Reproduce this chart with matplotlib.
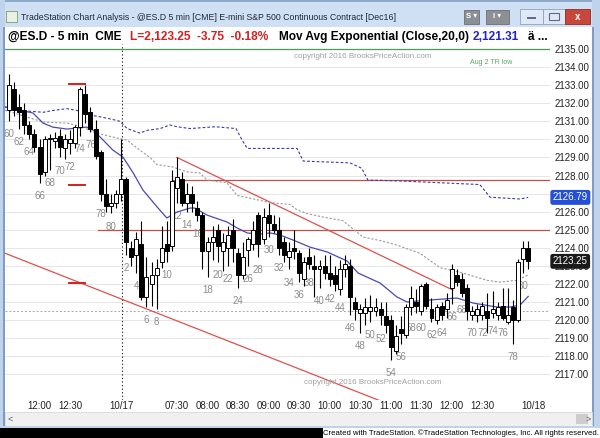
import matplotlib
matplotlib.use("Agg")
import matplotlib.pyplot as plt
from matplotlib.patches import Rectangle

plt.rcParams['font.family'] = ['Liberation Sans', 'DejaVu Sans']

# ---------------- data ----------------
# prior session (10/14), bar numbers 60..81
prior_num = list(range(60, 82))
prior_open = [2131.6, 2132.8, 2131.8, 2131.6, 2130.8, 2130.3, 2129.6, 2128.2, 2130.0, 2129.9, 2130.2,
              2129.5, 2129.8, 2129.8, 2130.7, 2132.5, 2131.5, 2130.6, 2129.3, 2127.0, 2126.3, 2126.5]
prior_high = [2133.6, 2133.2, 2132.5, 2132.0, 2131.0, 2130.6, 2130.0, 2130.2, 2130.3, 2130.4, 2130.6,
              2130.3, 2130.5, 2130.8, 2132.9, 2133.0, 2131.8, 2131.1, 2129.4, 2127.8, 2127.0, 2127.2]
prior_low = [2131.0, 2131.3, 2130.6, 2130.3, 2130.0, 2129.3, 2127.6, 2128.0, 2128.3, 2129.5, 2129.0,
             2128.9, 2129.2, 2129.5, 2130.2, 2130.9, 2130.4, 2128.9, 2126.6, 2126.0, 2125.9, 2126.2]
prior_close = [2133.0, 2131.6, 2131.5, 2130.8, 2130.3, 2129.6, 2128.1, 2130.0, 2130.1, 2130.1, 2129.6,
               2130.0, 2130.0, 2130.7, 2132.8, 2131.4, 2130.6, 2129.1, 2127.0, 2126.3, 2126.5, 2127.0]

# 10/17 session, bar numbers 1..81
day_num = list(range(1, 82))
day_open = [2127.0, 2127.8, 2124.0, 2123.6, 2124.2, 2121.3, 2122.0, 2122.5, 2123.2, 2124.2,
            2124.1, 2127.3, 2127.8, 2126.5, 2127.0, 2126.2, 2125.8, 2123.8, 2124.3, 2125.0,
            2123.8, 2124.0, 2125.0, 2123.7, 2122.5, 2123.9, 2124.2, 2125.8, 2124.5, 2125.8,
            2125.3, 2125.0, 2124.3, 2123.5, 2124.0, 2123.7, 2122.3, 2123.5, 2123.0, 2122.8,
            2123.0, 2122.6, 2122.5, 2121.7, 2122.8, 2123.0, 2121.0, 2120.4, 2120.4, 2120.5,
            2120.5, 2120.6, 2120.2, 2120.0, 2118.3, 2119.5, 2119.2, 2120.7, 2121.0, 2120.5,
            2122.0, 2120.6, 2120.0, 2120.8, 2120.6, 2121.8, 2122.5, 2122.3, 2121.8, 2120.3,
            2120.3, 2120.3, 2120.5, 2120.4, 2120.3, 2120.8, 2119.9, 2120.7, 2120.0, 2123.4,
            2124.0]
day_high = [2130.0, 2127.9, 2124.4, 2124.9, 2125.5, 2123.5, 2123.2, 2123.4, 2125.2, 2125.5,
            2128.3, 2129.0, 2128.2, 2127.6, 2127.4, 2126.6, 2126.0, 2124.6, 2125.2, 2125.3,
            2124.8, 2125.2, 2125.6, 2124.0, 2124.3, 2124.6, 2125.5, 2126.0, 2126.2, 2126.5,
            2125.8, 2125.7, 2124.6, 2124.3, 2125.0, 2123.9, 2123.5, 2124.0, 2123.6, 2123.3,
            2123.6, 2123.6, 2123.0, 2123.3, 2123.6, 2123.4, 2121.3, 2120.9, 2121.2, 2121.4,
            2121.2, 2121.0, 2121.0, 2120.3, 2119.7, 2120.2, 2120.9, 2121.9, 2121.7, 2122.0,
            2122.1, 2121.2, 2120.9, 2121.0, 2121.5, 2123.1, 2122.8, 2122.6, 2122.0, 2120.8,
            2120.9, 2121.0, 2121.5, 2121.6, 2121.0, 2121.8, 2121.8, 2121.1, 2123.4, 2124.4,
            2124.4]
day_low = [2126.6, 2123.6, 2123.0, 2122.6, 2121.1, 2120.7, 2120.8, 2120.6, 2122.9, 2123.2,
           2123.8, 2126.5, 2126.3, 2126.0, 2126.0, 2125.5, 2122.8, 2122.4, 2123.3, 2123.2,
           2122.7, 2123.0, 2123.2, 2121.8, 2122.3, 2123.0, 2123.9, 2123.5, 2124.2, 2124.6,
           2124.8, 2123.6, 2123.2, 2122.8, 2123.4, 2122.1, 2121.9, 2122.8, 2121.3, 2121.8,
           2122.3, 2121.9, 2121.6, 2121.4, 2122.4, 2120.3, 2120.0, 2119.3, 2119.7, 2119.9,
           2120.2, 2119.7, 2119.3, 2117.8, 2118.1, 2118.7, 2119.0, 2120.3, 2120.4, 2120.3,
           2120.6, 2119.9, 2119.8, 2120.0, 2120.1, 2120.9, 2121.9, 2121.3, 2120.0, 2120.0,
           2119.9, 2120.0, 2119.3, 2120.1, 2120.0, 2120.0, 2119.8, 2118.7, 2119.9, 2122.6,
           2122.8]
day_close = [2127.8, 2124.3, 2123.5, 2124.5, 2121.3, 2122.4, 2122.5, 2122.9, 2124.0, 2123.8,
             2127.7, 2127.9, 2126.5, 2127.0, 2126.5, 2125.8, 2123.8, 2124.3, 2124.6, 2124.1,
             2124.3, 2124.7, 2124.0, 2122.5, 2123.5, 2124.5, 2125.0, 2124.2, 2125.7, 2125.4,
             2125.0, 2124.0, 2123.6, 2123.8, 2123.8, 2122.6, 2123.2, 2123.1, 2122.8, 2123.0,
             2122.6, 2122.3, 2122.0, 2122.8, 2123.1, 2121.3, 2120.6, 2120.6, 2120.7, 2120.7,
             2120.7, 2120.3, 2119.7, 2118.5, 2119.1, 2119.3, 2120.7, 2121.2, 2120.8, 2121.9,
             2120.8, 2120.1, 2120.7, 2120.3, 2121.1, 2122.8, 2122.1, 2121.5, 2120.5, 2120.5,
             2120.6, 2120.8, 2120.1, 2120.6, 2120.7, 2120.1, 2120.3, 2120.0, 2123.2, 2124.0,
             2123.25]

# 20 bar EMA (solid blue), read at points: (bar index, price); index 1 = 10/17 bar 1
ema_idx = [-21.8, -18.8, -16.3, -14.3, -12.4, -9.6, -7.6, -5.7, -4.5, -2.5, -0.6, 1.4, 3.4, 5.3,
           8.1, 10.0, 12.0, 14.6, 15.5, 17.9, 21.8, 23.8, 25.8, 28.3, 30.3, 32.2, 34.8, 38.1, 41.5,
           45.4, 47.6, 51.9, 55.2, 57.2, 61.7, 67.0, 70.2, 74.9, 77.4, 79.4, 81.0]
ema_val = [2131.79, 2131.62, 2131.46, 2130.90, 2130.68, 2130.57, 2130.63, 2130.68, 2130.52, 2129.96,
           2129.41, 2129.02, 2128.14, 2127.20, 2126.26, 2125.65, 2125.98, 2126.20, 2126.20, 2125.81,
           2125.43, 2125.10, 2124.82, 2124.76, 2124.82, 2124.71, 2124.43, 2124.04, 2123.77, 2123.27,
           2122.60, 2122.05, 2121.28, 2121.00, 2121.11, 2121.22, 2120.94, 2120.72, 2120.72, 2120.83,
           2121.31]

# higher time frame average (dashed navy)
htf_idx = [-21.8, -18.8, -14.3, -12.4, -9.6, -7.6, -5.1, -3.1, -0.6, 0.8, 2.2, 4.7, 6.1, 8.7, 10.6,
           12.0, 14.6, 19.5, 23.6, 24.8, 25.8, 35.6, 36.8, 46.0, 48.3, 49.5, 55.8, 63.7, 71.5, 73.5,
           79.4, 81.0]
htf_val = [2131.80, 2131.60, 2131.50, 2131.60, 2131.70, 2131.60, 2131.35, 2131.25, 2131.10, 2131.00,
           2130.60, 2130.35, 2130.50, 2130.60, 2130.80, 2130.70, 2130.60, 2130.70, 2130.60, 2129.96,
           2129.50, 2129.50, 2128.80, 2128.70, 2128.40, 2127.75, 2127.70, 2127.60, 2127.50, 2126.80,
           2126.70, 2126.79]

# second average (dotted grey)
avg2_idx = [-21.8, -14.3, -9.6, -6.5, -4.5, -0.6, 2.2, 4.7, 6.7, 8.1, 11.2, 14.0, 16.5, 17.9, 21.8,
            23.8, 26.3, 30.3, 34.2, 35.6, 37.5, 40.7, 44.6, 48.5, 51.9, 55.2, 59.7, 63.7, 68.2, 72.9,
            75.5, 78.8, 81.0]
avg2_val = [2131.62, 2130.96, 2130.90, 2130.70, 2130.40, 2130.13, 2129.96, 2129.40, 2129.00, 2128.60,
            2128.47, 2128.20, 2128.14, 2127.75, 2127.60, 2126.90, 2126.75, 2126.50, 2126.40, 2126.10,
            2125.90, 2125.70, 2125.50, 2124.60, 2124.40, 2124.15, 2123.70, 2122.90, 2122.60, 2122.20,
            2122.10, 2122.20, 2122.50]

# drawn lines
bear_trend = ([12.0, 66.2], [2129.0, 2121.66])
channel_line = ([-21.8, 54.0], [2123.7, 2115.3])
hline_upper = 2127.75
hline_lower = 2125.0
prior_low_line = 2120.5
aug2_tr_low = 2135.0
mm_marks = [2133.05, 2127.5, 2122.05]

time_ticks = [-15, -9, 1, 12, 18, 24, 30, 36, 42, 48, 54, 60, 66, 72, 82]
time_labels = ['12:00', '12:30', '10/17', '07:30', '08:00', '08:30', '09:00', '09:30', '10:00',
               '10:30', '11:00', '11:30', '12:00', '12:30', '10/18']
price_ticks = list(range(2117, 2136))
last_price = 2123.25
ema_last = 2121.31
htf_last = 2126.79

# ---------------- figure ----------------
W, H = 600, 438
fig = plt.figure(figsize=(6, 4.38), dpi=100)
fig.patch.set_facecolor('white')


def fx(x):
    return x / W


def fy(y):
    return 1 - y / H


def rect(x0, y0, x1, y1, **kw):
    fig.add_artist(Rectangle((fx(x0), fy(y1)), fx(x1) - fx(x0), fy(y0) - fy(y1),
                             transform=fig.transFigure, **kw))


# window chrome
rect(0, 0, 600, 27, facecolor='#cfe0f4', edgecolor='none')
rect(0, 0, 600, 1.5, facecolor='#8fa9c9', edgecolor='none')
rect(0, 0, 5, 427, facecolor='#bfd3ec', edgecolor='none')
rect(3, 27, 5, 427, facecolor='#7f9cc2', edgecolor='none')
rect(592, 0, 600, 427, facecolor='#bfd3ec', edgecolor='none')
rect(592, 27, 594, 427, facecolor='#7f9cc2', edgecolor='none')
rect(6, 11, 17, 22, facecolor='#e9f0e4', edgecolor='#6a8a5a', lw=0.5)
fig.text(fx(21), fy(17), 'TradeStation Chart Analysis - @ES.D 5 min [CME] E-mini S&P 500 Continuous Contract [Dec16]',
         fontsize=6.3, color='#1e2a3a', va='center', ha='left')
for x0, x1, lab in [(464, 479, 'S ▾'), (486, 509, 'I ▾')]:
    rect(x0, 10, x1, 24, facecolor='#8c8f94', edgecolor='#6b6e73', lw=0.6)
    fig.text(fx((x0 + x1) / 2), fy(17), lab, fontsize=5.5, color='white', ha='center', va='center',
             fontweight='bold')
rect(520, 9, 543, 24, facecolor='#dfe8f4', edgecolor='#8ea3bf', lw=0.6)
rect(543, 9, 565, 24, facecolor='#dfe8f4', edgecolor='#8ea3bf', lw=0.6)
rect(565, 9, 590, 24, facecolor='#c8473d', edgecolor='#8d2d26', lw=0.6)
rect(527, 17, 536, 19, facecolor='#5a6f8c', edgecolor='none')
rect(549, 13, 559, 20, facecolor='none', edgecolor='#5a6f8c', lw=0.8)
fig.text(fx(577.5), fy(16.5), 'x', fontsize=7, color='white', ha='center', va='center', fontweight='bold')

# header
hdr_y = fy(37)
hdr_fs = 8.6
fig.text(fx(8), hdr_y, '@ES.D - 5 min  CME', fontsize=hdr_fs, fontweight='bold', color='black', va='center')
fig.text(fx(130), hdr_y, 'L=2,123.25  -3.75  -0.18%', fontsize=hdr_fs, fontweight='bold', color='#d42020',
         va='center')
fig.text(fx(279), hdr_y, 'Mov Avg Exponential (Close,20,0)', fontsize=hdr_fs, fontweight='bold',
         color='black', va='center')
fig.text(fx(473), hdr_y, '2,121.31', fontsize=hdr_fs, fontweight='bold', color='#2424c8', va='center')
fig.text(fx(528), hdr_y, 'ä ...', fontsize=hdr_fs, fontweight='bold', color='black', va='center')

# scroll bar + footer
rect(5, 412, 592, 426, facecolor='#f0f0f0', edgecolor='#d8d8d8', lw=0.6)
rect(576, 414, 588, 424, facecolor='#cdcdcd', edgecolor='none')
fig.text(fx(10), fy(419), '<', fontsize=6.5, color='#606060', ha='center', va='center')
fig.text(fx(588), fy(419), '>', fontsize=6.5, color='#606060', ha='center', va='center')
rect(0, 426, 600, 428, facecolor='#bfd3ec', edgecolor='none')
rect(0, 428, 323, 438, facecolor='black', edgecolor='none')
fig.text(fx(599), fy(433), 'Created with TradeStation. ©TradeStation Technologies, Inc. All rights reserved.',
         fontsize=5.6, color='black', ha='right', va='center')

# ---------------- price chart ----------------
ax_bottom = 400
ax = fig.add_axes([fx(5), fy(ax_bottom), fx(550) - fx(5), fy(44) - fy(ax_bottom)])
x_left = (5 - 121) / 5.09 + 1
x_right = (550 - 121) / 5.09 + 1
ax.set_xlim(x_left, x_right)
ax.set_ylim(2135 - (ax_bottom - 49) / 18.07, 2135.28)
for s in ax.spines.values():
    s.set_visible(False)

ax.set_yticks(price_ticks)
ax.set_yticklabels(['%.2f' % p for p in price_ticks])
ax.yaxis.tick_right()
ax.tick_params(axis='y', length=0, pad=3.5, labelsize=7, labelcolor='#222222')
ax.set_xticks(time_ticks)
ax.set_xticklabels(time_labels)
ax.tick_params(axis='x', length=0, pad=0.8, labelsize=7, labelcolor='#222222')
ax.grid(axis='y', color='#e6e6e6', lw=0.7)
ax.set_axisbelow(True)

idx = [n - 81 for n in prior_num] + day_num
nums = prior_num + day_num
opens = prior_open + day_open
highs = prior_high + day_high
lows = prior_low + day_low
closes = prior_close + day_close

# reference lines
ax.axhline(aug2_tr_low, color='#4f9a5a', lw=0.9, zorder=2)
ax.text(77.8, 2134.28, 'Aug 2 TR low', color='#5aa864', fontsize=5, ha='right', va='center')
ax.plot([11, x_right], [hline_upper, hline_upper], color='#c0504d', lw=0.9, zorder=2)
ax.plot([-3.5, x_right], [hline_lower, hline_lower], color='#c0504d', lw=0.9, zorder=2)
ax.axhline(prior_low_line, color='#a8a8a8', lw=0.7, ls=(0, (2, 2)), zorder=2)
ax.plot(*bear_trend, color='#d9534f', lw=0.9, zorder=2)
ax.plot(*channel_line, color='#d9534f', lw=0.9, zorder=2)
for m in mm_marks:
    ax.plot([-9.2, -6.1], [m, m], color='#d42020', lw=1.4, zorder=2)
ax.axvline(1.1, color='#303030', lw=0.8, ls=(0, (1.2, 2)), zorder=2)

# averages
ax.plot(avg2_idx, avg2_val, color='#9a9a9a', lw=0.8, ls=(0, (2, 1.6)), zorder=3)
ax.plot(htf_idx, htf_val, color='#3c3ca8', lw=0.8, ls=(0, (2.5, 1.8)), zorder=3)
ax.plot(ema_idx, ema_val, color='#4b4bb0', lw=0.9, zorder=3)

# bar count labels
for i, n, lo in zip(idx, nums, lows):
    if n % 2 == 0:
        ax.annotate(str(n), (i, lo), xytext=(0, -9.4), textcoords='offset points', ha='center',
                    va='center', fontsize=7, color='#8c8c8c', zorder=2.5)

# candles
bw = 0.78
for i, o, h, l, c in zip(idx, opens, highs, lows, closes):
    ax.plot([i, i], [l, h], color='black', lw=0.8, zorder=4, solid_capstyle='butt')
    bottom = min(o, c)
    height = max(abs(c - o), 0.06)
    ax.add_patch(Rectangle((i - bw / 2, bottom), bw, height, facecolor='white' if c >= o else 'black',
                           edgecolor='black', lw=0.7, zorder=5))

# watermarks
ax.text(48.5, 2134.6, 'copyright 2016 BrooksPriceAction.com', fontsize=5.8, color='#a0a0a0', ha='center',
        va='center')
ax.text(50.5, 2116.55, 'copyright 2016 BrooksPriceAction.com', fontsize=5.8, color='#a0a0a0', ha='center',
        va='center')

# right-axis value flags
ax.annotate('%.2f' % htf_last, (1.0, htf_last), xycoords=('axes fraction', 'data'), xytext=(2, 0),
            textcoords='offset points', ha='left', va='center', fontsize=7, color='white', zorder=10,
            annotation_clip=False,
            bbox=dict(boxstyle='round,pad=0.18', facecolor='#2450d8', edgecolor='#2450d8'))
ax.annotate('%.2f' % last_price, (1.0, last_price), xycoords=('axes fraction', 'data'), xytext=(2, 0),
            textcoords='offset points', ha='left', va='center', fontsize=7, color='white', zorder=10,
            annotation_clip=False,
            bbox=dict(boxstyle='round,pad=0.18', facecolor='#1a1a1a', edgecolor='#1a1a1a'))

fig.savefig('out.png', dpi=100)
